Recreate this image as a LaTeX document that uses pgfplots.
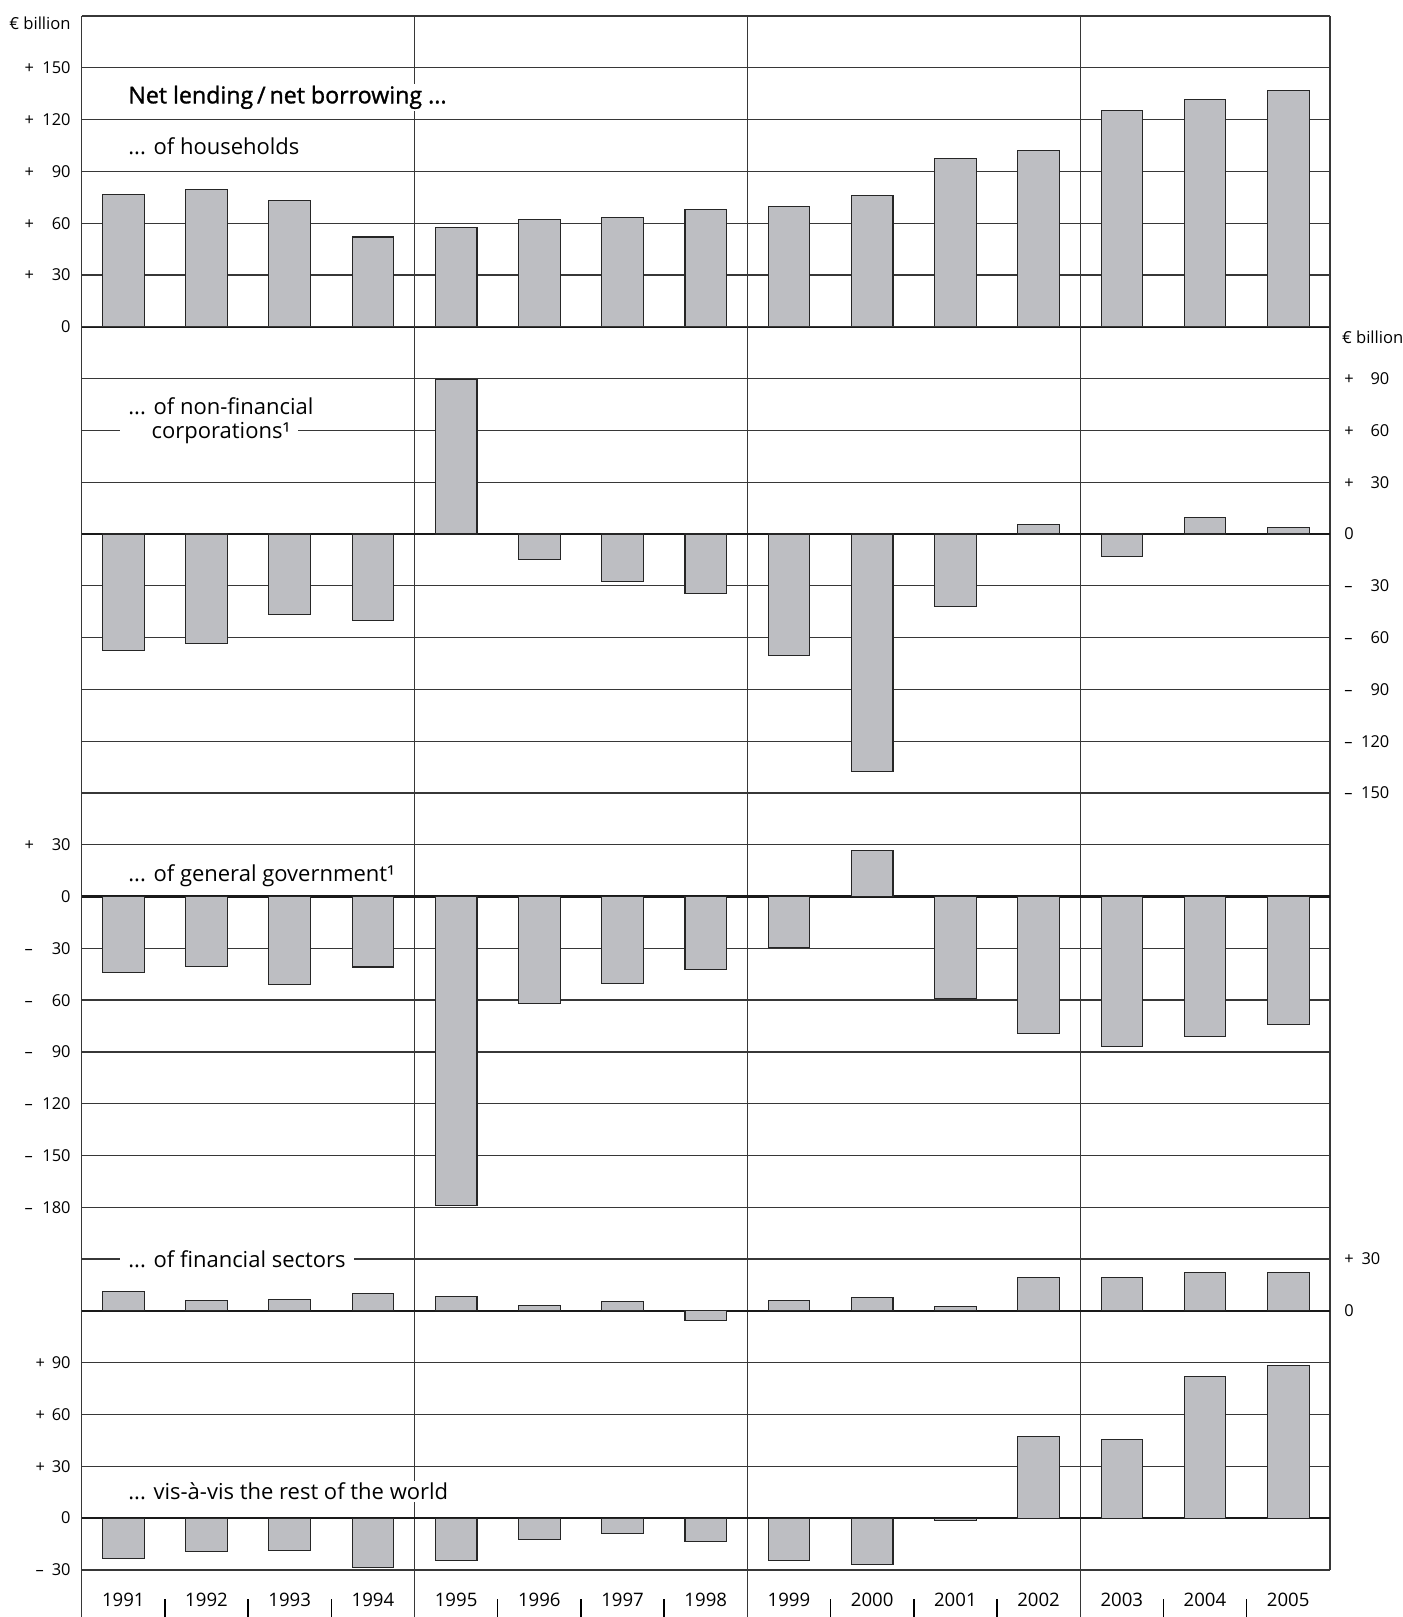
\documentclass[border=0pt]{standalone}
\usepackage{fontspec}
\setmainfont{Open Sans}
\newfontfamily\headfont{Open Sans}[FakeBold=1.2]
\usepackage{pgfplots}
\pgfplotsset{compat=1.18}

\definecolor{barfill}{RGB}{189,190,194}
\definecolor{gridc}{RGB}{55,55,55}

% sign at the left of a box of width #1, number flush right
\newcommand{\lb}[3]{\makebox[#1][l]{#2}\llap{#3}}

\pgfplotsset{
  panel/.style={
    scale only axis,
    width=624.15pt,
    xmin=1990.5, xmax=2005.5,
    axis line style={draw=none},
    xtick=\empty,
    extra x ticks={1990.5,1994.5,1998.5,2002.5,2005.5},
    extra x tick labels={},
    extra x tick style={grid=major},
    ymajorgrids,
    major tick length=0pt,
    grid style={line width=0.65pt, gridc},
    extra y ticks={0},
    extra y tick labels={},
    extra y tick style={grid=major, major grid style={line width=1.2pt, black!90}},
    ybar, bar width=0.5,
    clip=false,
  },
  leftlab/.style={yticklabel style={font=\fontsize{8.2}{10}\selectfont, inner sep=0pt, anchor=east, xshift=-5.35pt}},
  rightlab/.style={yticklabel pos=right, yticklabel style={font=\fontsize{8.2}{10}\selectfont, inner sep=0pt, anchor=west, xshift=7pt}},
  bars/.style={fill=barfill, draw=black!85, line width=0.55pt},
}
\tikzset{
  lab/.style={font=\fontsize{11}{12}\selectfont, fill=white, inner xsep=4pt, inner ysep=1pt, anchor=base west},
  unitlab/.style={font=\fontsize{8.3}{10}\selectfont, inner sep=0pt},
}

\begin{document}
\begin{tikzpicture}

% households
\begin{axis}[panel, leftlab, name=hh, height=155.403pt, ymin=0, ymax=180,
  ytick={0,30,...,180},
  yticklabels={0,\lb{23pt}{+}{30},\lb{23pt}{+}{60},\lb{23pt}{+}{90},\lb{23pt}{+}{120},\lb{23pt}{+}{150},{}}]
\addplot[bars] coordinates {(1991,76.5) (1992,79.5) (1993,72.9) (1994,52.0) (1995,57.4)
  (1996,62.2) (1997,63.4) (1998,68.1) (1999,69.9) (2000,75.9) (2001,97.4) (2002,102.2)
  (2003,125.5) (2004,131.5) (2005,136.9)};
\node[unitlab, anchor=base east, xshift=-5.35pt] at (axis cs:1990.5,172.2) {€ billion};
\node[lab, font=\headfont\fontsize{11.6}{13}\selectfont] at (axis cs:1990.96,129.4) {Net lending\,/\,net borrowing ...};
\node[lab] at (axis cs:1990.96,100.0) {... of households};
\end{axis}

% non-financial corporations
\begin{axis}[panel, rightlab, name=nf, at={(hh.south west)}, anchor=north west,
  height=233.1045pt, ymin=-150, ymax=120,
  ytick={-150,-120,...,120},
  yticklabels={\lb{22.5pt}{–}{150},\lb{22.5pt}{–}{120},\lb{22.5pt}{–}{90},\lb{22.5pt}{–}{60},\lb{22.5pt}{–}{30},0,\lb{22.5pt}{+}{30},\lb{22.5pt}{+}{60},\lb{22.5pt}{+}{90},{}}]
\addplot[bars] coordinates {(1991,-67.5) (1992,-63.4) (1993,-46.6) (1994,-50.2) (1995,89.4)
  (1996,-14.9) (1997,-27.5) (1998,-34.7) (1999,-70.5) (2000,-137.5) (2001,-41.8) (2002,5.4)
  (2003,-13.1) (2004,9.6) (2005,3.8)};
\node[unitlab, anchor=base west, xshift=5.85pt] at (axis cs:2005.5,110.4) {€ billion};
\node[lab] at (axis cs:1990.96,69.3) {... of non-financial};
\node[lab] at (axis cs:1990.96,55.4) {\phantom{...\ }corporations¹};
\end{axis}

% general government
\begin{axis}[panel, leftlab, name=gg, at={(nf.south west)}, anchor=north west,
  height=207.204pt, ymin=-180, ymax=60,
  ytick={-180,-150,...,60},
  yticklabels={\lb{23pt}{–}{180},\lb{23pt}{–}{150},\lb{23pt}{–}{120},\lb{23pt}{–}{90},\lb{23pt}{–}{60},\lb{23pt}{–}{30},0,\lb{23pt}{+}{30},{}}]
\addplot[bars] coordinates {(1991,-44.0) (1992,-40.6) (1993,-51.0) (1994,-40.8) (1995,-178.7)
  (1996,-62.2) (1997,-50.2) (1998,-42.4) (1999,-29.3) (2000,26.9) (2001,-59.2) (2002,-79.5)
  (2003,-86.7) (2004,-81.3) (2005,-74.1)};
\node[lab] at (axis cs:1990.96,8.6) {... of general government¹};
\end{axis}

% financial sectors
\begin{axis}[panel, rightlab, name=fs, at={(gg.south west)}, anchor=north west,
  height=77.7015pt, ymin=-30, ymax=60,
  ytick={-30,0,30,60},
  yticklabels={{},0,\lb{18pt}{+}{30},{}}]
\addplot[bars] coordinates {(1991,11.0) (1992,6.0) (1993,6.8) (1994,10.0) (1995,8.1)
  (1996,3.0) (1997,5.4) (1998,-5.4) (1999,6.0) (2000,7.8) (2001,2.4) (2002,19.5)
  (2003,19.3) (2004,22.0) (2005,22.2)};
\node[lab] at (axis cs:1990.96,25.3) {... of financial sectors};
\end{axis}

% rest of the world
\begin{axis}[panel, leftlab, name=rw, at={(fs.south west)}, anchor=north west,
  height=103.602pt, ymin=-30, ymax=90,
  ytick={-30,0,...,90},
  yticklabels={\lb{17.5pt}{–}{30},0,\lb{17.5pt}{+}{30},\lb{17.5pt}{+}{60},\lb{17.5pt}{+}{90}}]
\addplot[bars] coordinates {(1991,-23.3) (1992,-19.1) (1993,-18.5) (1994,-28.7) (1995,-24.5)
  (1996,-12.6) (1997,-9.0) (1998,-13.7) (1999,-24.5) (2000,-26.9) (2001,-1.2) (2002,47.2)
  (2003,45.4) (2004,82.1) (2005,88.3)};
\node[lab] at (axis cs:1990.96,10.5) {... vis-à-vis the rest of the world};
\end{axis}

% year row
\begin{axis}[scale only axis, width=624.15pt, height=23.55pt, name=yr,
  at={(rw.south west)}, anchor=north west,
  xmin=1990.5, xmax=2005.5, ymin=0, ymax=1,
  axis line style={draw=none}, ytick=\empty,
  xtick={1991,...,2005}, major tick length=0pt,
  minor xtick={1991.5,1992.5,...,2004.5}, minor tick length=9pt,
  minor tick style={line width=0.7pt, black},
  xtick pos=left,
  extra x ticks={1990.5,1994.5,1998.5,2002.5},
  extra x tick labels={},
  extra x tick style={grid=major, grid style={line width=0.65pt, gridc}},
  xticklabel style={font=\fontsize{9.3}{11}\selectfont, inner sep=0pt, anchor=center, yshift=8.5pt},
  /pgf/number format/.cd, 1000 sep={}, assume math mode=true]
\end{axis}

\pgfresetboundingbox
\path[use as bounding box] ([xshift=-40.85pt,yshift=8pt]hh.north west) rectangle ([xshift=36.5pt]yr.south east);
\end{tikzpicture}
\end{document}
